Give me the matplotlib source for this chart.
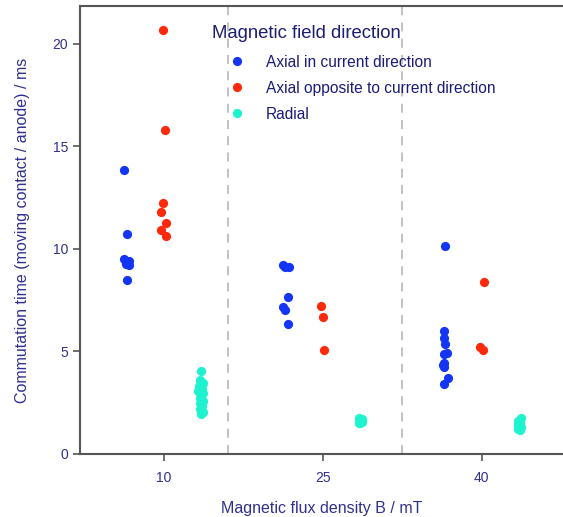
import matplotlib
matplotlib.use("Agg")
import matplotlib.pyplot as plt
from matplotlib.lines import Line2D

plt.rcParams['font.family'] = ['Liberation Sans', 'DejaVu Sans']

# Magnetic flux density groups (mT)
flux_labels = ["10", "25", "40"]

# Commutation times (ms) per group, per field direction
axial_in = [
    [13.84, 10.75, 9.5, 9.4, 9.25, 9.2, 8.49],
    [9.22, 9.1, 9.1, 7.67, 7.19, 7.02, 6.34],
    [10.15, 6.0, 5.64, 5.37, 4.94, 4.88, 4.42, 4.34, 4.26, 3.72, 3.40],
]
axial_opp = [
    [20.68, 15.8, 12.26, 11.82, 11.25, 10.93, 10.63],
    [7.22, 6.70, 5.07],
    [8.41, 5.24, 5.07],
]
radial = [
    [4.06, 3.6, 3.45, 3.3, 3.15, 3.05, 2.95, 2.85, 2.75, 2.6, 2.5, 2.35, 2.2, 2.05, 1.95],
    [1.75, 1.7, 1.65, 1.6, 1.55, 1.5, 1.5],
    [1.75, 1.6, 1.5, 1.4, 1.3, 1.2, 1.15],
]

# small horizontal offsets within each cluster
jit_in = [[-0.02, 0.0, -0.02, 0.01, -0.01, 0.01, 0.0],
          [-0.02, -0.005, 0.02, 0.01, -0.02, -0.005, 0.01],
          [0.0, -0.01, -0.005, 0.0, 0.01, -0.005, -0.01, -0.015, -0.005, 0.02, -0.01]]
jit_opp = [[-0.005, 0.005, -0.005, -0.015, 0.015, -0.015, 0.012],
           [-0.01, 0.0, 0.01],
           [0.015, -0.01, 0.005]]
jit_rad = [[0.0, -0.01, 0.01, -0.015, 0.005, -0.02, 0.01, 0.0, -0.01, 0.01, -0.005, 0.005, -0.01, 0.01, 0.0],
           [-0.01, 0.01, 0.0, -0.01, 0.01, 0.0, -0.005],
           [0.01, -0.01, 0.005, -0.01, 0.01, -0.005, 0.005]]

c_in = '#1535f5'
c_opp = '#fb2a0c'
c_rad = '#1ef3d0'
txt = '#30308f'
spine_c = '#555555'

fig = plt.figure(figsize=(5.63, 5.17), dpi=100)
ax = fig.add_axes([0.1416, 0.1219, 0.8584, 0.8665])

ms = 44
for g in range(3):
    ax.scatter([g - 0.23 + j for j in jit_in[g]], axial_in[g], s=ms, color=c_in, zorder=3, linewidths=0)
    ax.scatter([g + j for j in jit_opp[g]], axial_opp[g], s=ms, color=c_opp, zorder=3, linewidths=0)
    ax.scatter([g + 0.235 + j for j in jit_rad[g]], radial[g], s=ms, color=c_rad, zorder=3, linewidths=0)

for xd in (0.402, 1.495):
    ax.axvline(xd, color='#bdbdbd', linestyle=(0, (5, 4)), linewidth=1.3, zorder=1)

ax.set_xlim(-0.528, 2.51)
ax.set_ylim(0, 21.85)
ax.set_xticks(range(3))
ax.set_xticklabels(flux_labels)
ax.set_yticks([0, 5, 10, 15, 20])

for s in ('left', 'bottom', 'top'):
    ax.spines[s].set_color(spine_c)
    ax.spines[s].set_linewidth(1.5)
ax.spines['right'].set_visible(False)

ax.tick_params(axis='both', colors=spine_c, labelcolor=txt, labelsize=10, length=5, width=1.2)
ax.tick_params(axis='x', pad=7)

ax.set_xlabel("Magnetic flux density B / mT", color=txt, fontsize=11.5, labelpad=12)
ax.set_ylabel("Commutation time (moving contact / anode) / ms", color=txt, fontsize=11.5, labelpad=16)

handles = [Line2D([], [], marker='o', linestyle='', markersize=6.6, color=c, markeredgewidth=0)
           for c in (c_in, c_opp, c_rad)]
leg = ax.legend(handles, ["Axial in current direction",
                          "Axial opposite to current direction",
                          "Radial"],
                loc='upper left', bbox_to_anchor=(0.264, 0.922), frameon=False,
                fontsize=11.2, handletextpad=0.87, labelspacing=0.70,
                labelcolor='#1c1c78')
fig.text(212 / 563, 1 - 33 / 517, "Magnetic field direction", color='#1c1c70',
         fontsize=13.3, ha='left', va='center')

fig.savefig("out.png", dpi=100)
